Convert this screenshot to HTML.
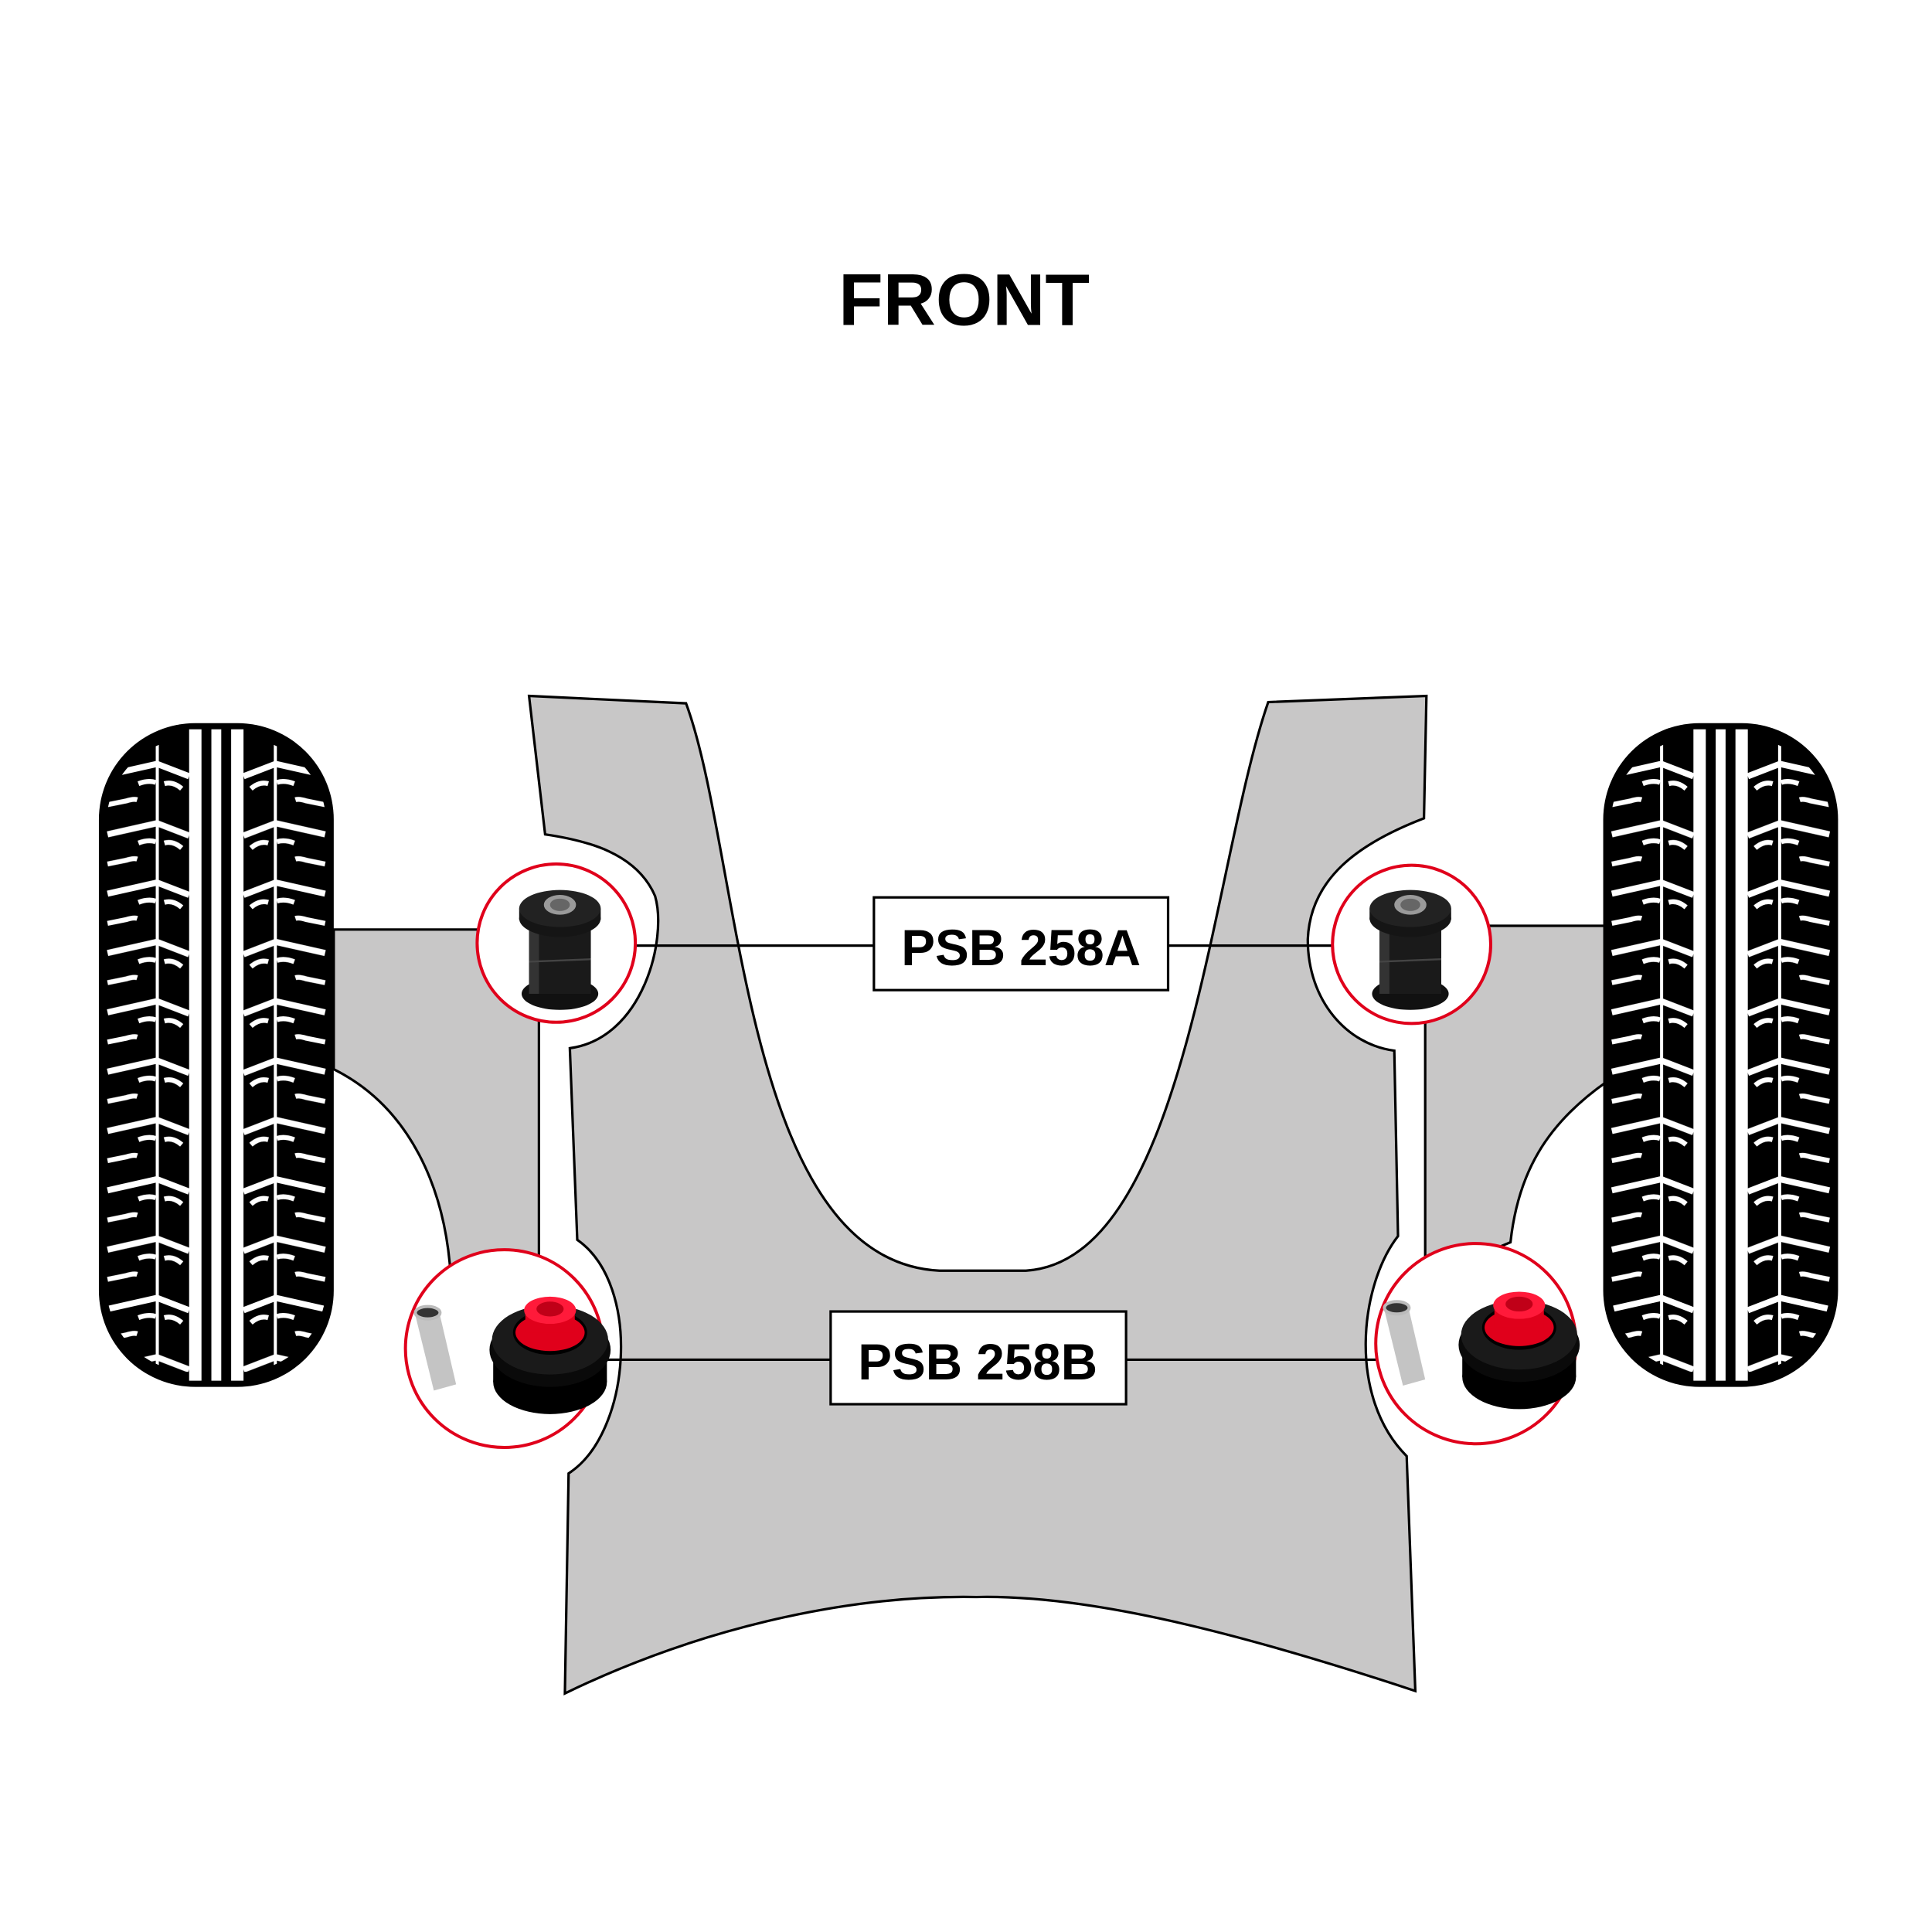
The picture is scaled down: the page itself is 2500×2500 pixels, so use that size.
<!DOCTYPE html>
<html><head><meta charset="utf-8"><style>html,body{margin:0;padding:0;background:#fff}svg{display:block}</style></head>
<body>
<svg width="2500" height="2500" viewBox="0 0 1563 1563" xmlns="http://www.w3.org/2000/svg">
<defs>
<pattern id="tread" patternUnits="userSpaceOnUse" x="0" y="600" width="190" height="48">
<rect width="190" height="48" fill="#000"/>
<g stroke="#fff" fill="none" stroke-linecap="butt">
<path d="M7 18 L47 9 L73 19" stroke-width="5"/>
<path d="M53 25 Q60 23 67 29" stroke-width="4"/>
<path d="M32 25 Q40 22 46 24" stroke-width="4"/>
<path d="M7 42 L22 39 Q28 37 31 38" stroke-width="4"/>
<path d="M183 18 L143 9 L117 19" stroke-width="5"/>
<path d="M137 25 Q130 23 123 29" stroke-width="4"/>
<path d="M158 25 Q150 22 144 24" stroke-width="4"/>
<path d="M183 42 L168 39 Q162 37 159 38" stroke-width="4"/>
</g>
</pattern>
<clipPath id="tc"><rect x="6" y="12" width="178" height="513" rx="70"/></clipPath>
<g id="tire">
<rect x="0" y="0" width="190" height="537" rx="78" fill="#000"/>
<g clip-path="url(#tc)">
<rect x="6" y="14" width="178" height="516" fill="url(#tread)"/>
<rect x="46" y="10" width="2.5" height="520" fill="#fff"/>
<rect x="141.5" y="10" width="2.5" height="520" fill="#fff"/>
</g>
<rect x="73" y="5" width="10" height="527" fill="#fff"/>
<rect x="91" y="5" width="8" height="527" fill="#fff"/>
<rect x="107" y="5" width="10" height="527" fill="#fff"/>
</g>
<g id="bushA">
<ellipse cx="0" cy="34" rx="31" ry="13" fill="#111"/>
<rect x="-25" y="-22" width="50" height="56" fill="#1a1a1a"/>
<rect x="-25" y="-22" width="8" height="56" fill="#333"/>
<line x1="-25" y1="8" x2="25" y2="6" stroke="#444" stroke-width="1.5"/>
<ellipse cx="0" cy="-27" rx="33" ry="15" fill="#151515"/>
<rect x="-33" y="-35" width="66" height="9" fill="#151515"/>
<ellipse cx="0" cy="-35" rx="33" ry="15" fill="#222"/>
<ellipse cx="0" cy="-38" rx="13" ry="8" fill="#9a9a9a"/>
<ellipse cx="0" cy="-38" rx="8" ry="5" fill="#666"/>
</g>
<g id="bushB">
<path d="M-72 -28 L-53 -32 L-39 28 L-57 33 Z" fill="#c4c4c4"/>
<ellipse cx="-62" cy="-30" rx="10" ry="5" fill="#333" stroke="#bbb" stroke-width="2.5"/>
<ellipse cx="37" cy="26" rx="46" ry="26" fill="#000"/>
<rect x="-9" y="0" width="92" height="26" fill="#000"/>
<ellipse cx="37" cy="0" rx="49" ry="30" fill="#0a0a0a"/>
<ellipse cx="37" cy="-8" rx="47" ry="28" fill="#1a1a1a"/>
<ellipse cx="37" cy="-14" rx="30" ry="18" fill="#000"/>
<ellipse cx="37" cy="-14" rx="28" ry="15" fill="#e0001b"/>
<rect x="17" y="-32" width="40" height="18" fill="#e0001b"/>
<ellipse cx="37" cy="-32" rx="21" ry="11" fill="#ff1a3a"/>
<ellipse cx="37" cy="-33" rx="11" ry="6" fill="#c00018"/>
</g>
</defs>

<text x="780" y="263" text-anchor="middle" font-family="Liberation Sans, sans-serif" font-weight="bold" font-size="59">FRONT</text>

<path d="M270 752 L400 752 L436 800 L436 1020 L380 1040 L365 1040 C362 960 330 895 270 865 Z" fill="#c8c7c7" stroke="#000" stroke-width="2"/>
<path d="M1300 749 L1190 749 L1153 800 L1153 1020 L1210 1010 L1222 1005 C1228 950 1250 910 1300 875 Z" fill="#c8c7c7" stroke="#000" stroke-width="2"/>

<path d="M428 563 L555 569 C600 690 600 1020 760 1028 L830 1028 C960 1020 980 700 1026 568 L1154 563 L1152 662 C1100 682 1060 710 1058 760 C1058 810 1090 845 1128 850 L1131 1000 C1100 1040 1090 1130 1138 1178 L1145 1368 C1000 1320 880 1290 790 1292 C680 1290 560 1320 457 1370 L460 1192 C510 1160 520 1040 467 1003 L461 848 C520 840 540 760 530 725 C515 690 475 680 441 675 Z" fill="#c8c7c7" stroke="#fff" stroke-width="26" stroke-linejoin="round"/>
<path d="M428 563 L555 569 C600 690 600 1020 760 1028 L830 1028 C960 1020 980 700 1026 568 L1154 563 L1152 662 C1100 682 1060 710 1058 760 C1058 810 1090 845 1128 850 L1131 1000 C1100 1040 1090 1130 1138 1178 L1145 1368 C1000 1320 880 1290 790 1292 C680 1290 560 1320 457 1370 L460 1192 C510 1160 520 1040 467 1003 L461 848 C520 840 540 760 530 725 C515 690 475 680 441 675 Z" fill="#c8c7c7" stroke="#000" stroke-width="2"/>

<use href="#tire" x="80" y="585"/>
<use href="#tire" x="1297" y="585"/>

<g stroke="#000" stroke-width="2">
<line x1="515" y1="765" x2="707" y2="765"/>
<line x1="945" y1="765" x2="1078" y2="765"/>
<line x1="489" y1="1100" x2="672" y2="1100"/>
<line x1="911" y1="1100" x2="1113" y2="1100"/>
</g>
<rect x="707" y="726" width="238" height="75" fill="#fff" stroke="#000" stroke-width="2"/>
<text x="826" y="781" text-anchor="middle" font-family="Liberation Sans, sans-serif" font-weight="bold" font-size="41">PSB 258A</text>
<rect x="672" y="1061" width="239" height="75" fill="#fff" stroke="#000" stroke-width="2"/>
<text x="791" y="1116" text-anchor="middle" font-family="Liberation Sans, sans-serif" font-weight="bold" font-size="41">PSB 258B</text>

<g fill="#fff" stroke="#e0001b" stroke-width="2.5">
<circle cx="450" cy="763" r="64"/>
<circle cx="1142" cy="764" r="64"/>
<circle cx="408" cy="1091" r="80"/>
<circle cx="1194" cy="1087" r="81"/>
</g>
<use href="#bushA" x="453" y="770"/>
<use href="#bushA" x="1141" y="770"/>
<use href="#bushB" x="408" y="1092"/>
<use href="#bushB" x="1192" y="1088"/>
</svg>
</body></html>
